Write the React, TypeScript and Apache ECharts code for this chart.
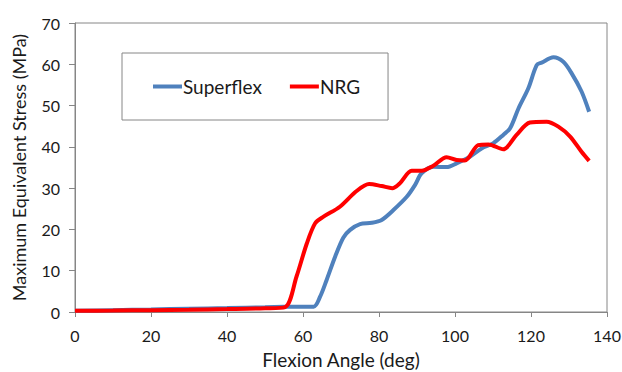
import React, { useEffect, useRef } from "react";
import * as echarts from "echarts";

const seriesNames = ["Superflex", "NRG"];

const superflexX = [0, 10, 20, 30, 40, 50, 55, 62.8, 64.5, 66.2, 68.5, 70.6, 72.4, 75, 78.1, 80.7, 83.8, 87.3, 89.5, 91.2, 94.3, 97.8, 100.4, 103.9, 107, 110.1, 112.7, 114.5, 116.7, 119.3, 121.5, 122.8, 125.9, 128.5, 130.7, 133.3, 135.3];
const superflexY = [0.3, 0.45, 0.6, 0.8, 0.95, 1.15, 1.25, 1.3, 3.7, 7.7, 13.5, 18.0, 19.9, 21.3, 21.6, 22.3, 24.7, 27.9, 30.8, 33.6, 35.2, 35.1, 36.0, 37.6, 39.6, 40.9, 42.9, 44.5, 49.3, 54.2, 59.8, 60.4, 61.7, 60.6, 57.8, 53.4, 48.5];

const nrgX = [0, 10, 20, 30, 40, 50, 55.3, 58.3, 61, 63.2, 65.4, 69.7, 74.1, 77.4, 80.7, 83.5, 85.5, 88.6, 91.2, 94.3, 97.8, 100.4, 102.6, 106.1, 108.8, 112.7, 116.2, 119.7, 124.1, 127.2, 130.3, 133.3, 135.3];
const nrgY = [0.3, 0.35, 0.45, 0.55, 0.7, 0.9, 1.2, 8.6, 16.6, 21.5, 23.1, 25.5, 29.3, 31.0, 30.5, 30.0, 31.2, 34.2, 34.2, 35.4, 37.5, 36.8, 36.7, 40.4, 40.6, 39.4, 42.9, 45.9, 46.1, 44.9, 42.5, 38.8, 36.6];

const xTicks = { min: 0, max: 140, interval: 20 };
const yTicks = { min: 0, max: 70, interval: 10 };

const FONT = "Lato";

export default function App() {
  const ref = useRef<HTMLDivElement>(null);
  useEffect(() => {
    document.body.style.margin = "0";
    const chart = echarts.init(ref.current!, null, { renderer: "svg" });
    const axisColor = "#868686";
    chart.setOption({
      animation: false,
      backgroundColor: "#ffffff",
      textStyle: { fontFamily: FONT },
      grid: {
        left: 75,
        right: 15,
        top: 23,
        bottom: 60,
        containLabel: false,
        outerBoundsMode: "none",
        show: true,
        borderColor: axisColor,
        borderWidth: 1,
      },
      legend: {
        left: 122,
        top: 53,
        padding: [24, 28, 24, 31],
        borderColor: axisColor,
        borderWidth: 1,
        itemGap: 28,
        itemWidth: 29,
        itemHeight: 4,
        icon: "rect",
        textStyle: { fontFamily: FONT, fontSize: 19, color: "#1a1a1a", padding: [0, 0, 0, -4] },
        data: seriesNames,
      },
      xAxis: {
        type: "value",
        min: xTicks.min,
        max: xTicks.max,
        interval: xTicks.interval,
        name: "Flexion Angle (deg)",
        nameLocation: "middle",
        nameGap: 38,
        nameTextStyle: { fontFamily: FONT, fontSize: 19, lineHeight: 19, color: "#1a1a1a" },
        axisLine: { show: true, lineStyle: { color: axisColor } },
        axisTick: { show: true, length: 5, lineStyle: { color: axisColor } },
        axisLabel: { margin: 15, fontFamily: FONT, fontSize: 16, color: "#1a1a1a" },
        splitLine: { show: false },
      },
      yAxis: {
        type: "value",
        min: yTicks.min,
        max: yTicks.max,
        interval: yTicks.interval,
        name: "Maximum Equivalent Stress (MPa)",
        nameLocation: "middle",
        nameGap: 47,
        nameTextStyle: { fontFamily: FONT, fontSize: 18, color: "#1a1a1a" },
        axisLine: { show: true, lineStyle: { color: axisColor } },
        axisTick: { show: true, length: 6, lineStyle: { color: axisColor } },
        axisLabel: { margin: 15, fontFamily: FONT, fontSize: 16, color: "#1a1a1a" },
        splitLine: { show: false },
      },
      series: [
        {
          name: seriesNames[0],
          type: "line",
          data: superflexX.map((x, i) => [x, superflexY[i]]),
          showSymbol: false,
          symbol: "none",
          smooth: 0.3,
          itemStyle: { color: "#4F81BD" },
          lineStyle: { color: "#4F81BD", width: 4 },
          z: 2,
        },
        {
          name: seriesNames[1],
          type: "line",
          data: nrgX.map((x, i) => [x, nrgY[i]]),
          showSymbol: false,
          symbol: "none",
          smooth: 0.3,
          itemStyle: { color: "#FF0000" },
          lineStyle: { color: "#FF0000", width: 4 },
          z: 3,
        },
      ],
    });
    return () => chart.dispose();
  }, []);
  return <div ref={ref} style={{ width: 622, height: 372 }} />;
}
